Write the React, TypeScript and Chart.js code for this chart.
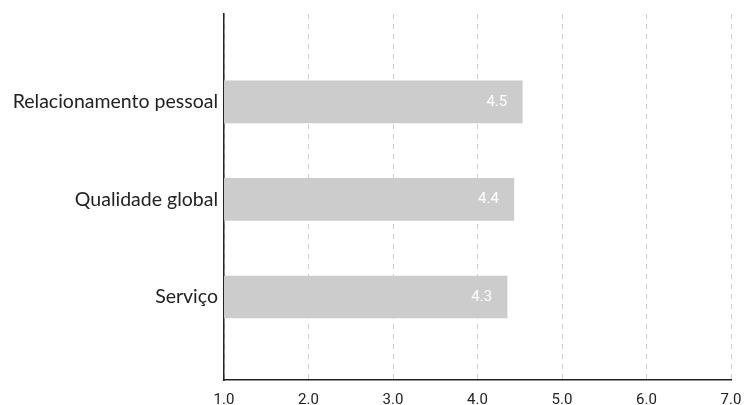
import React, { useEffect, useRef } from "react";
import { Chart, registerables } from "chart.js";

Chart.register(...registerables);

const categories = ["Relacionamento pessoal", "Qualidade global", "Serviço"];
const values = [4.53, 4.43, 4.35];
const xTicks = [1, 2, 3, 4, 5, 6, 7];

const valueLabels = {
  id: "valueLabels",
  afterDatasetsDraw(chart: any) {
    const ctx = chart.ctx;
    const meta = chart.getDatasetMeta(0);
    ctx.save();
    ctx.fillStyle = "#ffffff";
    ctx.font = "15px Roboto";
    ctx.textAlign = "right";
    ctx.textBaseline = "middle";
    meta.data.forEach((el: any, i: number) => {
      ctx.fillText(values[i].toFixed(1), el.x - 15, el.y);
    });
    ctx.restore();
  },
};

export default function App() {
  const ref = useRef<HTMLCanvasElement>(null);
  useEffect(() => {
    document.body.style.margin = "0";
    const chart = new Chart(ref.current!, {
      type: "bar",
      data: {
        datasets: [
          {
            data: values.map((v, i) => ({ x: v, y: i })),
            backgroundColor: "#cccccc",
            barThickness: 42,
          },
        ],
      },
      options: {
        indexAxis: "y",
        animation: false,
        responsive: false,
        maintainAspectRatio: false,
        layout: { padding: { top: 14, right: 13, left: 0, bottom: 0 } },
        plugins: { legend: { display: false }, tooltip: { enabled: false } },
        scales: {
          x: {
            type: "linear",
            min: 1,
            max: 7,
            afterBuildTicks: (s: any) => {
              s.ticks = xTicks.map((v) => ({ value: v }));
            },
            afterFit: (s: any) => {
              s.height = 25;
              s.paddingLeft = 0;
              s.paddingRight = 0;
            },
            ticks: {
              callback: (v: any) => Number(v).toFixed(1),
              color: "#222222",
              font: { family: "Roboto", size: 15 },
              padding: 11,
              maxRotation: 0,
            },
            grid: { color: "#d0d0d0", drawTicks: false, lineWidth: 1 },
            border: { display: true, color: "#222222", width: 1.5, dash: [5, 5] },
          },
          y: {
            type: "linear",
            reverse: true,
            offset: false,
            min: -0.9,
            max: 2.85,
            bounds: "data",
            afterDataLimits: (s: any) => {
              s.min = -0.9;
              s.max = 2.85;
            },
            afterBuildTicks: (s: any) => {
              s.ticks = [0, 1, 2].map((v) => ({ value: v }));
            },
            afterFit: (s: any) => {
              s.width = 224;
              s.paddingTop = 0;
              s.paddingBottom = 0;
            },
            ticks: {
              callback: (v: any) => categories[v as number] ?? "",
              color: "#222222",
              font: { family: "Lato", size: 19.5 },
              padding: 6,
            },
            grid: { display: false, drawTicks: false, offset: false },
            border: { display: true, color: "#222222", width: 1.5 },
          },
        },
      },
      plugins: [valueLabels],
    });
    return () => chart.destroy();
  }, []);
  return (
    <div style={{ width: 744, height: 405 }}>
      <canvas ref={ref} width={744} height={405} style={{ width: 744, height: 405, display: "block" }} />
    </div>
  );
}
